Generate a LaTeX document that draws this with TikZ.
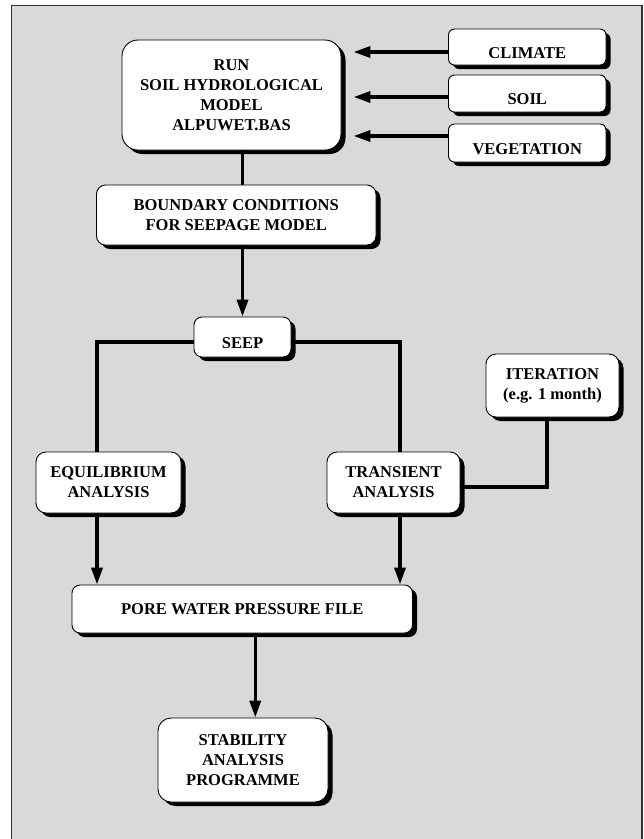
\documentclass[tikz,border=0pt]{standalone}
\usepackage{fontspec}
\setmainfont{Liberation Serif}
\usepackage{tikz}
\usetikzlibrary{arrows.meta, shadows}
\definecolor{bggray}{RGB}{217,217,217}
\definecolor{framegray}{RGB}{50,50,50}
\tikzset{
  box/.style={rectangle, draw=black, fill=white, line width=0.9pt,
    align=center, inner sep=2pt,
    font=\fontsize{16.5}{20}\selectfont\bfseries,
    drop shadow={shadow xshift=4.5pt, shadow yshift=-4pt, fill=black, opacity=1}},
  sunk/.style={text height=22pt, text depth=0pt},
  arrow/.style={-{Triangle[length=17pt,width=11pt]}, line width=3.5pt, color=black},
  line/.style={line width=3.5pt, color=black}
}

\begin{document}
\begin{tikzpicture}[x=1pt, y=-1pt]
  \useasboundingbox (0,0) rectangle (644,839);

  % ── Grey frame ────────────────────────────────────────────────────────────
  \draw[fill=bggray, draw=framegray, line width=1.3pt] (11.5,5.5) rectangle (642,860);

  % ── Hydrological model and its inputs ─────────────────────────────────────
  \node[box, minimum width=219pt, minimum height=110pt, rounded corners=16pt] (run) at (231.5,95)
    {RUN\\SOIL HYDROLOGICAL\\MODEL\\ALPUWET.BAS};
  \node[box, sunk, minimum width=157.5pt, minimum height=36pt, rounded corners=6pt] (clim) at (527.25,47) {CLIMATE};
  \node[box, sunk, minimum width=157.5pt, minimum height=37pt, rounded corners=6pt] (soil) at (527.25,93.5) {SOIL};
  \node[box, sunk, minimum width=157.5pt, minimum height=38pt, rounded corners=6pt] (veg) at (527.25,143) {VEGETATION};

  % ── Seepage model ─────────────────────────────────────────────────────────
  \node[box, minimum width=279.5pt, minimum height=60pt, rounded corners=9pt] (bnd) at (236.25,215)
    {BOUNDARY CONDITIONS\\FOR SEEPAGE MODEL};
  \node[box, sunk, minimum width=97pt, minimum height=40pt, rounded corners=8pt] (seep) at (242.5,337) {SEEP};
  \node[box, minimum width=133pt, minimum height=63pt, rounded corners=10pt] (iter) at (552.5,385.5)
    {ITERATION\\(e.g. 1 month)};
  \node[box, minimum width=145pt, minimum height=61pt, rounded corners=10pt] (equil) at (108.5,482.5)
    {EQUILIBRIUM\\ANALYSIS};
  \node[box, minimum width=133pt, minimum height=61pt, rounded corners=10pt] (trans) at (393.5,482.5)
    {TRANSIENT\\ANALYSIS};

  % ── Output and stability ──────────────────────────────────────────────────
  \node[box, minimum width=340.5pt, minimum height=48pt, rounded corners=8pt] (pore) at (242.25,609)
    {PORE WATER PRESSURE FILE};
  \node[box, minimum width=170pt, minimum height=84pt, rounded corners=13pt] (stab) at (243,760)
    {STABILITY\\ANALYSIS\\PROGRAMME};

  % ── Connectors ────────────────────────────────────────────────────────────
  \path ([yshift=-5pt]clim.west) coordinate (cin)
        ([yshift=-3.5pt]soil.west) coordinate (sin)
        ([yshift=7pt]veg.west) coordinate (vin)
        ([yshift=-5pt]seep.west) coordinate (sl)
        ([yshift=-5pt]seep.east) coordinate (sr);
  \foreach \src in {cin, sin, vin}
    \draw[arrow, shorten >=12pt] (\src) -- (\src -| run.east);

  \draw[line] (seep.north |- run.south) -- (seep.north |- bnd.north);
  \draw[arrow] (seep.north |- bnd.south) -- (seep.north);

  \draw[line] (sl) -| ([xshift=-11.5pt]equil.north);
  \draw[line] (sr) -| ([xshift=6.5pt]trans.north);
  \draw[line] ([xshift=-5.5pt]iter.south) |- ([yshift=-4.5pt]trans.east);

  \draw[arrow] ([xshift=-11.5pt]equil.south) -- ([xshift=-11.5pt]equil.south |- pore.north);
  \draw[arrow] ([xshift=6.5pt]trans.south) -- ([xshift=6.5pt]trans.south |- pore.north);
  \draw[arrow] ([xshift=13pt]pore.south) -- ([xshift=13pt]pore.south |- stab.north);
\end{tikzpicture}
\end{document}
